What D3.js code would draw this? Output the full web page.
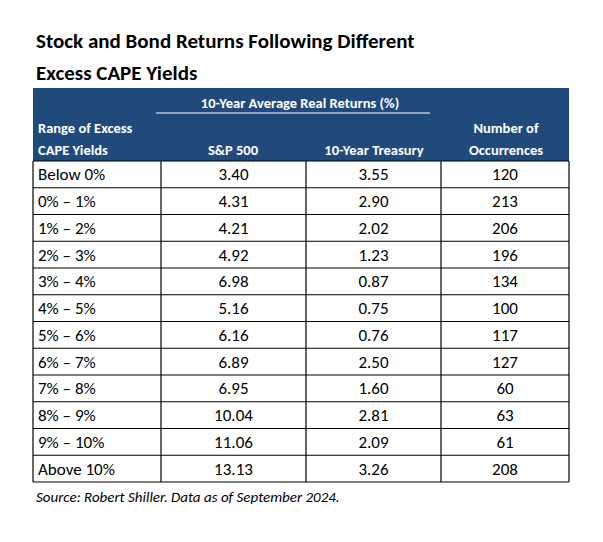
<!DOCTYPE html>
<html><head><meta charset="utf-8">
<script src="https://cdn.jsdelivr.net/npm/d3@7"></script>
<style>body{margin:0;background:#fff}</style>
</head><body><div class="tbl"></div>
<script>
const ranges = ["Below 0%","0% \u2013 1%","1% \u2013 2%","2% \u2013 3%","3% \u2013 4%","4% \u2013 5%","5% \u2013 6%","6% \u2013 7%","7% \u2013 8%","8% \u2013 9%","9% \u2013 10%","Above 10%"];
const sp500 = ["3.40","4.31","4.21","4.92","6.98","5.16","6.16","6.89","6.95","10.04","11.06","13.13"];
const treasury = ["3.55","2.90","2.02","1.23","0.87","0.75","0.76","2.50","1.60","2.81","2.09","3.26"];
const occurrences = ["120","213","206","196","134","100","117","127","60","63","61","208"];

const font = "Carlito, 'Liberation Sans Narrow', 'DejaVu Sans Condensed', sans-serif";
var svg = d3.select(".tbl").append("svg").attr("width", 603).attr("height", 542)
  .style("font-family", font);

// column edges
var colEdges = [33, 161, 306, 441, 569];
var tableTop = 161, tableBottom = 482;
var y = d3.scaleBand().domain(d3.range(ranges.length)).range([tableTop, tableBottom]);

// title
svg.append("text").attr("x", 36).attr("y", 48).attr("font-size", 21).attr("font-weight", "bold")
  .text("Stock and Bond Returns Following Different");
svg.append("text").attr("x", 36).attr("y", 80).attr("font-size", 21).attr("font-weight", "bold")
  .text("Excess CAPE Yields");

// header
svg.append("rect").attr("x", colEdges[0]).attr("y", 88).attr("width", colEdges[4] - colEdges[0])
  .attr("height", tableTop - 88).attr("fill", "#214a7c");
var hdr = svg.append("g").attr("fill", "#fff").attr("font-weight", "bold").attr("font-size", 14.5);
hdr.append("text").attr("x", 300).attr("y", 108).attr("text-anchor", "middle").text("10-Year Average Real Returns (%)");
hdr.append("line").attr("x1", 156).attr("x2", 430).attr("y1", 113).attr("y2", 113).attr("stroke", "#fff").attr("stroke-width", 1);
hdr.append("text").attr("x", 38).attr("y", 133).text("Range of Excess");
hdr.append("text").attr("x", 38).attr("y", 155).text("CAPE Yields");
hdr.append("text").attr("x", 233).attr("y", 155).attr("text-anchor", "middle").text("S&P 500");
hdr.append("text").attr("x", 374).attr("y", 155).attr("text-anchor", "middle").text("10-Year Treasury");
hdr.append("text").attr("x", 506).attr("y", 133).attr("text-anchor", "middle").text("Number of");
hdr.append("text").attr("x", 506).attr("y", 155).attr("text-anchor", "middle").text("Occurrences");

// body cells
var cols = [ranges, sp500, treasury, occurrences];
var body = svg.append("g").attr("font-size", 17);
cols.forEach(function (vals, c) {
  body.selectAll(".c" + c).data(vals).enter().append("text")
    .attr("x", c === 0 ? colEdges[0] + 5 : (colEdges[c] + colEdges[c + 1]) / 2)
    .attr("text-anchor", c === 0 ? "start" : "middle")
    .attr("y", function (d, i) { return y(i) + y.bandwidth() / 2 + 6; })
    .text(function (d) { return d; });
});

// grid lines
var grid = svg.append("g").attr("stroke", "#000").attr("stroke-width", 1.2);
grid.selectAll(".h").data(d3.range(ranges.length + 1)).enter().append("line")
  .attr("x1", colEdges[0]).attr("x2", colEdges[4])
  .attr("y1", function (i) { return i < ranges.length ? y(i) : tableBottom; })
  .attr("y2", function (i) { return i < ranges.length ? y(i) : tableBottom; });
grid.selectAll(".v").data(colEdges).enter().append("line")
  .attr("x1", function (d) { return d; }).attr("x2", function (d) { return d; })
  .attr("y1", tableTop).attr("y2", tableBottom);

svg.append("text").attr("x", 36).attr("y", 502).attr("font-size", 15).attr("font-style", "italic")
  .text("Source: Robert Shiller. Data as of September 2024.");
</script></body></html>
